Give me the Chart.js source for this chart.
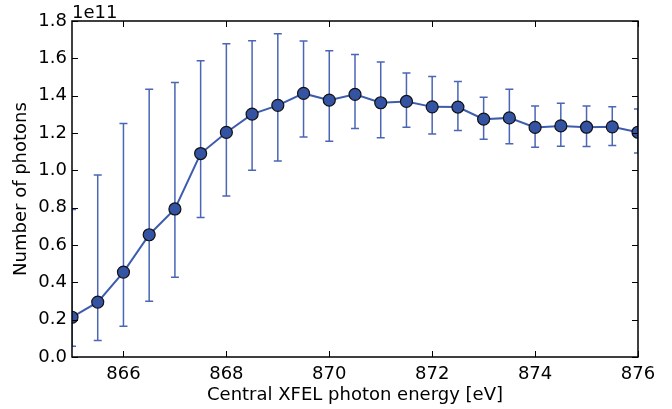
<!DOCTYPE html>
<html>
<head>
<meta charset="UTF-8">
<script src="https://cdn.jsdelivr.net/npm/chart.js"></script>
<style>
  html, body { margin: 0; padding: 0; background: #fff; }
  #wrap { width: 672px; height: 409px; }
</style>
</head>
<body>
<div id="wrap"><canvas id="c" width="672" height="409"></canvas></div>
<script>
// photon energy [eV] and photon number (in units of 1e11)
const energies = [865, 865.5, 866, 866.5, 867, 867.5, 868, 868.5, 869, 869.5, 870, 870.5,
                  871, 871.5, 872, 872.5, 873, 873.5, 874, 874.5, 875, 875.5, 876];
const photons  = [0.213, 0.294, 0.455, 0.655, 0.793, 1.090, 1.203, 1.301, 1.348, 1.412, 1.376, 1.407,
                  1.362, 1.369, 1.340, 1.339, 1.274, 1.281, 1.230, 1.238, 1.231, 1.233, 1.204];
const errLow   = [0.058, 0.089, 0.165, 0.298, 0.427, 0.747, 0.863, 1.000, 1.050, 1.178, 1.156, 1.224,
                  1.174, 1.231, 1.195, 1.213, 1.167, 1.142, 1.124, 1.129, 1.128, 1.133, 1.093];
const errHigh  = [0.790, 0.975, 1.251, 1.435, 1.471, 1.587, 1.678, 1.694, 1.732, 1.693, 1.641, 1.621,
                  1.580, 1.521, 1.503, 1.476, 1.392, 1.435, 1.344, 1.360, 1.344, 1.340, 1.329];
const xTicks = [866, 868, 870, 872, 874, 876];
const yTicks = [0, 0.2, 0.4, 0.6, 0.8, 1.0, 1.2, 1.4, 1.6, 1.8];

Chart.defaults.font.family = 'DejaVu Sans';
Chart.defaults.font.size = 18;
Chart.defaults.color = '#000';

// error bars, drawn under the line and markers
const errorBars = {
  id: 'errorBars',
  beforeDatasetsDraw(chart) {
    const ctx = chart.ctx, a = chart.chartArea;
    const xs = chart.scales.x, ys = chart.scales.y;
    ctx.save();
    ctx.beginPath();
    ctx.rect(a.left, a.top, a.right - a.left, a.bottom - a.top);
    ctx.clip();
    ctx.strokeStyle = '#4a66b5';
    ctx.lineWidth = 1.5;
    energies.forEach((e, i) => {
      const x = xs.getPixelForValue(e);
      const y1 = ys.getPixelForValue(errLow[i]);
      const y2 = ys.getPixelForValue(errHigh[i]);
      ctx.beginPath();
      ctx.moveTo(x, y1); ctx.lineTo(x, y2);
      ctx.moveTo(x - 4, y1); ctx.lineTo(x + 4, y1);
      ctx.moveTo(x - 4, y2); ctx.lineTo(x + 4, y2);
      ctx.stroke();
    });
    ctx.restore();
  }
};

// box frame with inward ticks on all four sides, plus the offset label
const frame = {
  id: 'frame',
  afterDatasetsDraw(chart) {
    const ctx = chart.ctx, a = chart.chartArea;
    const xs = chart.scales.x, ys = chart.scales.y;
    ctx.save();
    ctx.strokeStyle = '#000';
    ctx.lineWidth = 1.5;
    ctx.strokeRect(a.left, a.top, a.right - a.left, a.bottom - a.top);
    ctx.lineWidth = 1;
    ctx.beginPath();
    xTicks.forEach(t => {
      const x = Math.round(xs.getPixelForValue(t)) + 0.5;
      ctx.moveTo(x, a.bottom); ctx.lineTo(x, a.bottom - 6);
      ctx.moveTo(x, a.top); ctx.lineTo(x, a.top + 6);
    });
    yTicks.forEach(t => {
      const y = Math.round(ys.getPixelForValue(t)) + 0.5;
      ctx.moveTo(a.left, y); ctx.lineTo(a.left + 6, y);
      ctx.moveTo(a.right, y); ctx.lineTo(a.right - 6, y);
    });
    ctx.stroke();
    ctx.fillStyle = '#000';
    ctx.font = '18px "DejaVu Sans"';
    ctx.textBaseline = 'alphabetic';
    ctx.fillText('1e11', a.left, a.top - 3);
    ctx.restore();
  }
};

new Chart(document.getElementById('c').getContext('2d'), {
  type: 'line',
  data: {
    datasets: [{
      data: energies.map((e, i) => ({ x: e, y: photons[i] })),
      borderColor: '#3d5cad',
      borderWidth: 2,
      pointRadius: 6,
      pointBackgroundColor: '#3553a3',
      pointBorderColor: '#111',
      pointBorderWidth: 1.2,
      tension: 0,
      clip: 0
    }]
  },
  options: {
    responsive: false,
    animation: false,
    events: [],
    layout: { padding: { left: 0, right: 34, top: 21, bottom: 0 } },
    plugins: { legend: { display: false }, tooltip: { enabled: false } },
    scales: {
      x: {
        type: 'linear',
        min: 865, max: 876,
        grid: { display: false, drawTicks: false },
        border: { display: false },
        afterBuildTicks: s => { s.ticks = xTicks.map(v => ({ value: v })); },
        afterFit: s => { s.height = 52; },
        ticks: { padding: 7, maxRotation: 0, callback: v => String(v) },
        title: { display: true, text: 'Central XFEL photon energy [eV]', padding: { top: 0, bottom: 3 } }
      },
      y: {
        min: 0, max: 1.8,
        grid: { display: false, drawTicks: false },
        border: { display: false },
        afterBuildTicks: s => { s.ticks = yTicks.map(v => ({ value: v })); },
        afterFit: s => { s.width = 72; },
        ticks: { padding: 5, callback: v => v.toFixed(1) },
        title: { display: true, text: 'Number of photons', padding: { top: 11, bottom: 0 } }
      }
    }
  },
  plugins: [errorBars, frame]
});
</script>
</body>
</html>
